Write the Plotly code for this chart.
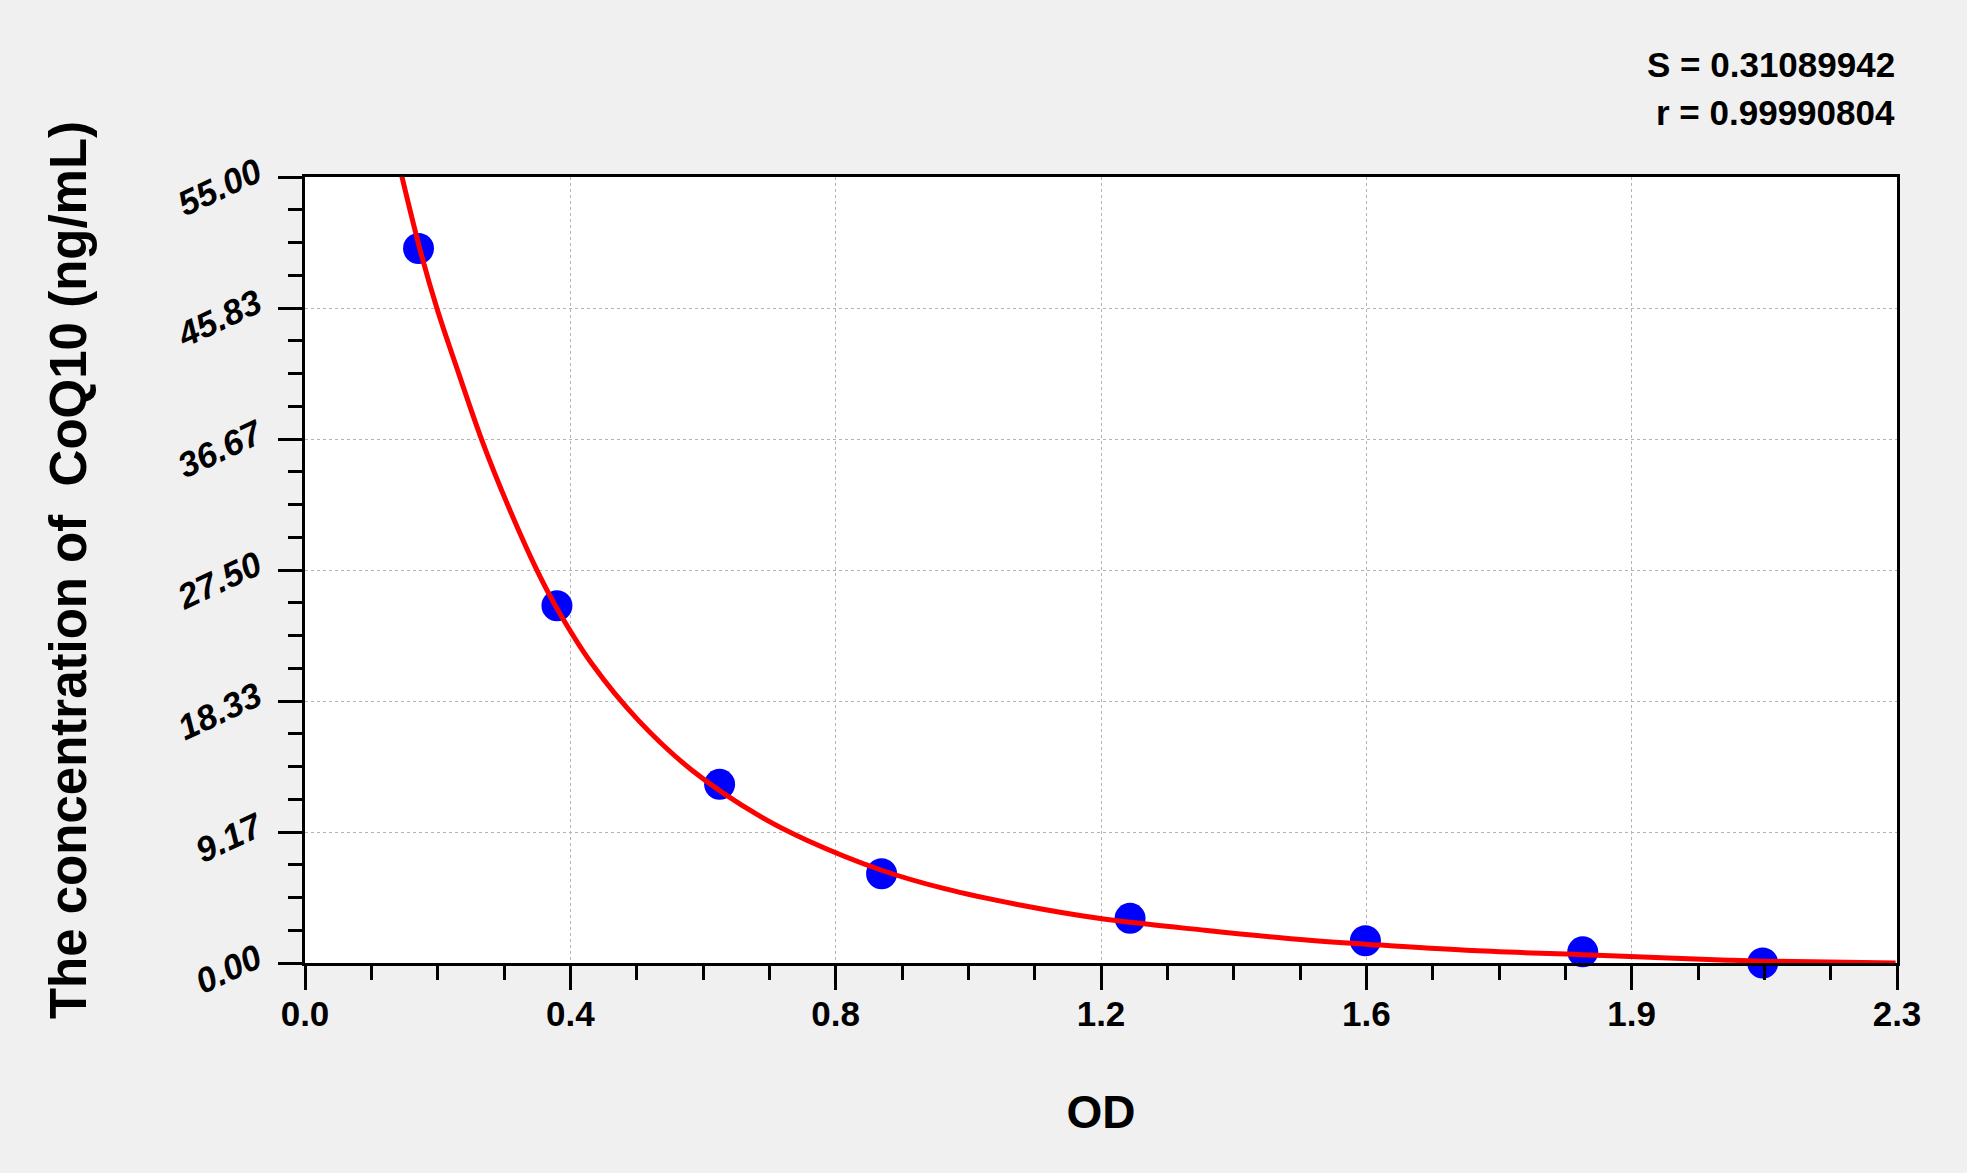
import plotly.graph_objects as go

# Standard points (OD vs concentration)
od_values = [0.164, 0.364, 0.599, 0.833, 1.192, 1.532, 1.846, 2.106]
conc_values = [50.0, 25.0, 12.5, 6.25, 3.125, 1.5625, 0.78, 0.0]

# Fitted curve
curve_od = [0.139, 0.167, 0.191, 0.222, 0.256, 0.294, 0.335, 0.364, 0.415, 0.482,
            0.559, 0.659, 0.725, 0.833, 0.924, 1.035, 1.149, 1.300, 1.451,
            1.532, 1.678, 1.846, 1.905, 2.056, 2.106, 2.298]
curve_conc = [55.23, 49.77, 45.74, 41.26, 36.52, 31.92, 27.49, 24.81, 20.9, 16.96,
              13.49, 10.22, 8.59, 6.49, 5.2, 4.04, 3.11, 2.29, 1.59,
              1.32, 0.89, 0.58, 0.48, 0.20, 0.13, 0.0]

# Axis ticks
x_tick_values = [0.0, 0.38333, 0.76667, 1.15, 1.53333, 1.91667, 2.3]
x_tick_labels = ["0.0", "0.4", "0.8", "1.2", "1.6", "1.9", "2.3"]
y_tick_values = [0.0, 9.16667, 18.33333, 27.5, 36.66667, 45.83333, 55.0]
y_tick_labels = ["0.00", "9.17", "18.33", "27.50", "36.67", "45.83", "55.00"]

stats_lines = ["S = 0.31089942", "r = 0.99990804"]

FONT = "Liberation Sans, Arial, sans-serif"

fig = go.Figure()
fig.add_trace(go.Scatter(
    x=od_values, y=conc_values, mode="markers", cliponaxis=False,
    marker=dict(color="#0000ff", size=31, line=dict(width=0)),
    showlegend=False, name="Standards"))
fig.add_trace(go.Scatter(
    x=curve_od, y=curve_conc, mode="lines",
    line=dict(color="#ff0000", width=5, shape="spline", smoothing=1.0),
    showlegend=False, name="Fit"))

fig.update_layout(
    width=1967, height=1173,
    paper_bgcolor="#f0f0f0", plot_bgcolor="#ffffff",
    margin=dict(l=305, r=70, t=177, b=210, autoexpand=False),
    font=dict(family=FONT, color="#000000"),
    xaxis=dict(
        range=[0, 2.3], tickmode="array", tickvals=x_tick_values, ticktext=x_tick_labels,
        ticks="outside", ticklen=24, tickwidth=3, tickcolor="#000000",
        tickfont=dict(family=FONT, size=35, weight="bold"), ticklabelstandoff=-6,
        showline=True, linewidth=3, linecolor="#000000", mirror=True,
        showgrid=True, gridcolor="#b4b4b4", gridwidth=1, griddash="3px,3px",
        zeroline=False,
        minor=dict(tick0=0, dtick=2.3 / 24, ticks="outside", ticklen=14,
                   tickwidth=3, tickcolor="#000000", showgrid=False),
        title=dict(text="OD", font=dict(family=FONT, size=46, weight="bold"), standoff=64),
    ),
    yaxis=dict(
        range=[0, 55], tickmode="array", tickvals=y_tick_values, ticktext=y_tick_labels,
        ticks="outside", ticklen=24, tickwidth=3, tickcolor="#000000", tickangle=-25,
        tickfont=dict(family=FONT, size=35, weight="bold", style="italic"),
        ticklabelstandoff=14, ticklabelshift=-8,
        showline=True, linewidth=3, linecolor="#000000", mirror=True,
        showgrid=True, gridcolor="#b4b4b4", gridwidth=1, griddash="3px,3px",
        zeroline=False,
        minor=dict(tick0=0, dtick=55 / 24, ticks="outside", ticklen=14,
                   tickwidth=3, tickcolor="#000000", showgrid=False),
        title=dict(text="The concentration of  CoQ10 (ng/mL)",
                   font=dict(family=FONT, size=51, weight="bold"), standoff=68),
    ),
    annotations=[
        dict(text=stats_lines[0], xref="paper", yref="paper", x=1.0, y=1.1426,
             xanchor="right", yanchor="middle", showarrow=False,
             font=dict(family=FONT, size=35, weight="bold")),
        dict(text=stats_lines[1], xref="paper", yref="paper", x=1.0, y=1.0815,
             xanchor="right", yanchor="middle", showarrow=False,
             font=dict(family=FONT, size=35, weight="bold")),
    ],
)

fig.write_html(
    "out.html",
    config={"displayModeBar": False},
    post_script="document.body.style.margin='0';document.body.style.overflow='hidden';",
)
